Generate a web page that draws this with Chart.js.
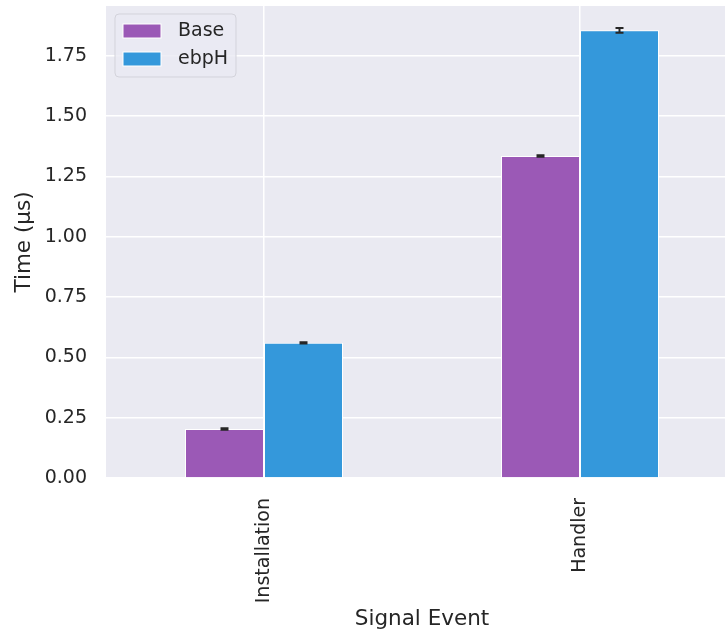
<!DOCTYPE html>
<html lang="en">
<head>
    <meta charset="UTF-8">
    <title>Signal Event timing</title>
    <style>
        html, body { margin: 0; padding: 0; background: #ffffff; overflow: hidden; }
    </style>
</head>
<body>
    <canvas id="grafica" width="745" height="632"></canvas>

    <script src="https://cdn.jsdelivr.net/npm/chart.js@4.4.1/dist/chart.umd.min.js"></script>
    <script>
        // data
        const categories = ['Installation', 'Handler'];
        const seriesNames = ['Base', 'ebpH'];
        const baseTimes = [0.203, 1.334];
        const ebphTimes = [0.560, 1.855];
        const baseErr = [0.003, 0.003];
        const ebphErr = [0.003, 0.010];
        const yTicks = [0, 0.25, 0.5, 0.75, 1.0, 1.25, 1.5, 1.75];

        const purple = '#9b59b6';
        const blue = '#3498db';
        const ink = '#262626';
        const fontFam = '"DejaVu Sans", sans-serif';

        // grey panel behind the plot area
        const panelBg = {
            id: 'panelBg',
            beforeDraw(chart) {
                const a = chart.chartArea;
                const c = chart.ctx;
                c.save();
                c.fillStyle = '#eaeaf2';
                c.fillRect(a.left, a.top, a.right - a.left, a.bottom - a.top);
                c.restore();
            }
        };

        // little error bars on top of each bar
        const errBars = {
            id: 'errBars',
            afterDatasetsDraw(chart) {
                const c = chart.ctx;
                const y = chart.scales.y;
                c.save();
                c.strokeStyle = ink;
                c.lineWidth = 2;
                chart.data.datasets.forEach((ds, i) => {
                    chart.getDatasetMeta(i).data.forEach((bar, j) => {
                        const v = ds.data[j], e = ds.errors[j];
                        const y1 = y.getPixelForValue(v - e);
                        const y2 = y.getPixelForValue(v + e);
                        c.beginPath();
                        c.moveTo(bar.x, y1); c.lineTo(bar.x, y2);
                        c.moveTo(bar.x - 4, y1); c.lineTo(bar.x + 4, y1);
                        c.moveTo(bar.x - 4, y2); c.lineTo(bar.x + 4, y2);
                        c.stroke();
                    });
                });
                c.restore();
            }
        };

        // matplotlib-like legend box in the top left corner
        const boxLegend = {
            id: 'boxLegend',
            afterDraw(chart) {
                const c = chart.ctx;
                const a = chart.chartArea;
                const x0 = a.left + 9, y0 = a.top + 8;
                c.save();
                c.beginPath();
                c.roundRect(x0, y0, 121, 63, 4);
                c.fillStyle = 'rgba(234,234,242,0.8)';
                c.fill();
                c.strokeStyle = '#d3d3db';
                c.lineWidth = 1;
                c.stroke();
                c.font = '19px ' + fontFam;
                c.textBaseline = 'middle';
                chart.data.datasets.forEach((ds, i) => {
                    const py = y0 + 10 + i * 28;
                    c.fillStyle = ds.backgroundColor;
                    c.fillRect(x0 + 8, py, 38, 14);
                    c.strokeStyle = '#ffffff';
                    c.strokeRect(x0 + 8, py, 38, 14);
                    c.fillStyle = ink;
                    c.fillText(ds.label, x0 + 63, py + 7);
                });
                c.restore();
            }
        };

        const ctx = document.getElementById('grafica').getContext('2d');
        const grafica = new Chart(ctx, {
            type: 'bar',
            data: {
                labels: categories,
                datasets: [{
                    label: seriesNames[0],
                    data: baseTimes,
                    errors: baseErr,
                    backgroundColor: purple,
                    borderColor: '#ffffff',
                    borderWidth: 1
                }, {
                    label: seriesNames[1],
                    data: ebphTimes,
                    errors: ebphErr,
                    backgroundColor: blue,
                    borderColor: '#ffffff',
                    borderWidth: 1
                }]
            },
            options: {
                responsive: false,
                animation: false,
                devicePixelRatio: 1,
                categoryPercentage: 0.5,
                barPercentage: 1.0,
                layout: { padding: { top: 6, right: 7, left: 0, bottom: 0 } },
                plugins: {
                    legend: { display: false },
                    tooltip: { enabled: false }
                },
                scales: {
                    x: {
                        grid: { color: '#ffffff', lineWidth: 1.5, offset: false, drawTicks: false },
                        border: { display: false },
                        ticks: {
                            color: ink,
                            font: { family: fontFam, size: 19 },
                            maxRotation: 90,
                            minRotation: 90,
                            padding: 20
                        },
                        title: {
                            display: true,
                            text: 'Signal Event',
                            color: ink,
                            font: { family: fontFam, size: 21.5 },
                            padding: { top: 0, bottom: 0 }
                        },
                        afterFit(scale) {
                            scale.height = 154;
                            scale.paddingLeft = 0;
                            scale.paddingRight = 0;
                        }
                    },
                    y: {
                        min: 0,
                        max: 1.956,
                        grid: { color: '#ffffff', lineWidth: 1.5, drawTicks: false },
                        border: { display: false },
                        afterBuildTicks(scale) {
                            scale.ticks = yTicks.map(v => ({ value: v }));
                        },
                        ticks: {
                            color: ink,
                            font: { family: fontFam, size: 19 },
                            padding: 19,
                            callback: v => Number(v).toFixed(2)
                        },
                        title: {
                            display: true,
                            text: 'Time (μs)',
                            color: ink,
                            font: { family: fontFam, size: 21.5 },
                            padding: { top: 12, bottom: 0 }
                        },
                        afterFit(scale) {
                            scale.width = 106;
                            scale.paddingTop = 0;
                            scale.paddingBottom = 0;
                        }
                    }
                }
            },
            plugins: [panelBg, errBars, boxLegend]
        });
    </script>
</body>
</html>
